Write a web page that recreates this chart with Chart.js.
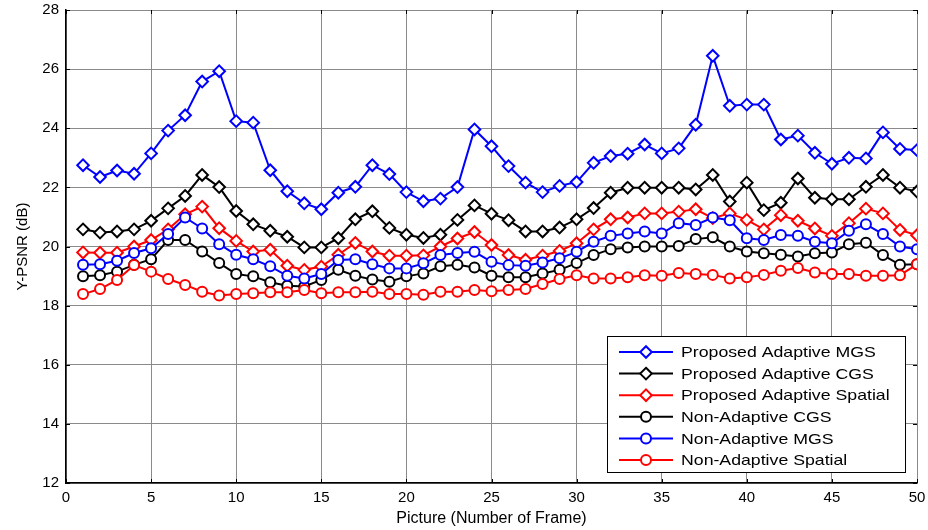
<!DOCTYPE html>
<html>
<head>
<meta charset="utf-8">
<script src="https://cdn.jsdelivr.net/npm/chart.js@4.4.1/dist/chart.umd.min.js"></script>
<style>
  html, body { margin: 0; padding: 0; background: #fff; }
  #wrap { width: 928px; height: 530px; }
</style>
</head>
<body>
<div id="wrap"><canvas id="c" width="928" height="530"></canvas></div>
<script>
// ---- data ----
const frames = Array.from({length: 50}, (_, i) => i + 1);
const xTicks = [0, 5, 10, 15, 20, 25, 30, 35, 40, 45, 50];
const yTicks = [12, 14, 16, 18, 20, 22, 24, 26, 28];

const seriesNames = [
  'Proposed Adaptive MGS',
  'Proposed Adaptive CGS',
  'Proposed Adaptive Spatial',
  'Non-Adaptive CGS',
  'Non-Adaptive MGS',
  'Non-Adaptive Spatial'
];

const adaptiveMGS = [22.75,22.35,22.57,22.46,23.15,23.92,24.44,25.58,25.93,24.24,
  24.19,22.58,21.87,21.46,21.26,21.82,22.02,22.75,22.45,21.84,
  21.53,21.62,22.01,23.96,23.39,22.72,22.16,21.84,22.05,22.18,
  22.83,23.06,23.14,23.45,23.15,23.32,24.12,26.45,24.76,24.80,
  24.80,23.62,23.75,23.17,22.80,23.00,22.98,23.86,23.30,23.26];

const adaptiveCGS = [20.58,20.47,20.51,20.58,20.87,21.29,21.71,22.42,22.01,21.20,
  20.75,20.53,20.33,19.97,19.97,20.28,20.92,21.19,20.63,20.40,
  20.29,20.40,20.90,21.39,21.11,20.89,20.51,20.51,20.64,20.92,
  21.30,21.82,21.99,21.99,21.99,21.99,21.93,22.42,21.52,22.16,
  21.23,21.48,22.30,21.65,21.60,21.60,22.02,22.42,21.99,21.86];

const adaptiveSpatial = [19.80,19.79,19.79,20.00,20.22,20.58,21.09,21.35,20.62,20.19,
  19.83,19.89,19.35,19.21,19.32,19.72,20.12,19.83,19.69,19.69,
  19.70,20.00,20.27,20.49,20.05,19.71,19.55,19.69,19.85,20.11,
  20.58,20.92,20.98,21.12,21.12,21.18,21.26,20.96,21.12,20.90,
  20.58,21.06,20.87,20.61,20.36,20.79,21.28,21.12,20.56,20.38];

const nonAdaptiveCGS = [18.99,19.03,19.15,19.38,19.57,20.22,20.22,19.83,19.44,19.07,
  18.99,18.79,18.67,18.65,18.87,19.21,19.01,18.88,18.81,18.99,
  19.09,19.33,19.38,19.29,19.01,18.96,18.96,19.09,19.21,19.44,
  19.71,19.91,19.97,20.00,20.00,20.02,20.25,20.31,20.00,19.83,
  19.77,19.72,19.66,19.77,19.80,20.08,20.13,19.71,19.38,19.40];

const nonAdaptiveMGS = [19.38,19.40,19.52,19.78,19.94,20.42,20.98,20.61,20.08,19.72,
  19.57,19.33,19.01,18.92,19.07,19.54,19.57,19.40,19.26,19.26,
  19.43,19.71,19.78,19.82,19.48,19.37,19.35,19.46,19.60,19.82,
  20.16,20.36,20.44,20.51,20.44,20.79,20.73,20.98,20.89,20.28,
  20.22,20.39,20.36,20.16,20.11,20.53,20.75,20.42,20.00,19.91];

const nonAdaptiveSpatial = [18.39,18.56,18.87,19.37,19.15,18.90,18.70,18.47,18.34,18.39,
  18.42,18.45,18.45,18.53,18.42,18.45,18.45,18.47,18.39,18.39,
  18.37,18.47,18.47,18.53,18.49,18.53,18.56,18.73,18.90,19.03,
  18.92,18.92,18.96,19.03,19.01,19.10,19.07,19.04,18.92,18.96,
  19.04,19.18,19.27,19.12,19.07,19.07,19.01,19.01,19.03,19.40];

const seriesValues = [adaptiveMGS, adaptiveCGS, adaptiveSpatial, nonAdaptiveCGS, nonAdaptiveMGS, nonAdaptiveSpatial];
const seriesColors = ['#0000ff', '#000000', '#ff0000', '#000000', '#0000ff', '#ff0000'];
const seriesMarkers = ['rectRot', 'rectRot', 'rectRot', 'circle', 'circle', 'circle'];

const FONT = "'Liberation Sans', Arial, Helvetica, sans-serif";

function markerRadius(style) { return style === 'circle' ? 5 : 5.8; }

const datasets = seriesValues.map((vals, i) => ({
  label: seriesNames[i],
  data: frames.map((f, k) => ({x: f, y: vals[k]})),
  borderColor: seriesColors[i],
  backgroundColor: '#ffffff',
  pointBackgroundColor: '#ffffff',
  pointBorderColor: seriesColors[i],
  pointStyle: seriesMarkers[i],
  pointRadius: markerRadius(seriesMarkers[i]),
  pointBorderWidth: 2,
  borderWidth: 2,
  tension: 0,
  order: 6 - i
}));

function drawMarker(ctx, style, x, y, r, color) {
  ctx.save();
  ctx.strokeStyle = color;
  ctx.fillStyle = '#fff';
  ctx.lineWidth = 2;
  ctx.beginPath();
  if (style === 'circle') {
    ctx.arc(x, y, r, 0, Math.PI * 2);
  } else {
    ctx.moveTo(x, y - r); ctx.lineTo(x + r, y); ctx.lineTo(x, y + r); ctx.lineTo(x - r, y); ctx.closePath();
  }
  ctx.fill();
  ctx.stroke();
  ctx.restore();
}

const framePlugin = {
  id: 'frameTicks',
  beforeDatasetsDraw(chart) {
    const {ctx, chartArea: a, scales} = chart;
    ctx.save();
    ctx.strokeStyle = '#000';
    ctx.lineWidth = 1;
    const L = 4;
    ctx.beginPath();
    xTicks.forEach(v => {
      const px = Math.round(scales.x.getPixelForValue(v)) + 0.5;
      ctx.moveTo(px, a.bottom); ctx.lineTo(px, a.bottom - L);
      ctx.moveTo(px, a.top); ctx.lineTo(px, a.top + L);
    });
    yTicks.forEach(v => {
      const py = Math.round(scales.y.getPixelForValue(v)) + 0.5;
      ctx.moveTo(a.left, py); ctx.lineTo(a.left + L, py);
      ctx.moveTo(a.right, py); ctx.lineTo(a.right - L, py);
    });
    ctx.stroke();
    ctx.restore();
  },
  afterDraw(chart) {
    const {ctx} = chart;
    const bx = 607, by = 336, bw = 298, bh = 136;
    ctx.save();
    ctx.fillStyle = '#fff';
    ctx.fillRect(bx, by, bw, bh);
    ctx.strokeStyle = '#000';
    ctx.lineWidth = 1;
    ctx.strokeRect(bx + 0.5, by + 0.5, bw, bh);
    chart.data.datasets.forEach((ds, i) => {
      const y = 352 + i * 21.6;
      ctx.strokeStyle = ds.borderColor;
      ctx.lineWidth = 2;
      ctx.beginPath();
      ctx.moveTo(619, y); ctx.lineTo(673, y);
      ctx.stroke();
      drawMarker(ctx, ds.pointStyle, 646, y, ds.pointStyle === 'circle' ? 5 : 5.8, ds.borderColor);
      ctx.save();
      ctx.translate(681, y);
      ctx.scale(1.18, 1);
      ctx.fillStyle = '#000';
      ctx.font = '15px ' + FONT;
      ctx.textBaseline = 'middle';
      ctx.textAlign = 'left';
      ctx.fillText(ds.label, 0, 1);
      ctx.restore();
    });
    ctx.restore();
  }
};

new Chart(document.getElementById('c'), {
  type: 'line',
  data: { datasets },
  options: {
    responsive: false,
    animation: false,
    devicePixelRatio: 1,
    layout: { padding: { left: 0, right: 11, top: 10, bottom: 0 } },
    plugins: { legend: { display: false }, tooltip: { enabled: false } },
    scales: {
      x: {
        type: 'linear',
        min: 0, max: 50,
        afterBuildTicks: (s) => { s.ticks = xTicks.map(v => ({value: v})); },
        afterFit: (s) => { s.height = 47; s.paddingLeft = 0; s.paddingRight = 0; },
        grid: { color: '#8a8a8a', lineWidth: 1, drawTicks: false },
        border: { color: '#000', width: 1.5 },
        ticks: { padding: 6, color: '#000', font: { family: FONT, size: 15 }, maxRotation: 0 },
        title: { display: true, text: 'Picture (Number of Frame)', color: '#000', font: { family: FONT, size: 16 }, padding: { top: 0, bottom: 2 } }
      },
      y: {
        type: 'linear',
        min: 12, max: 28,
        afterBuildTicks: (s) => { s.ticks = yTicks.map(v => ({value: v})); },
        afterFit: (s) => { s.width = 66; s.paddingTop = 0; s.paddingBottom = 0; },
        grid: { color: '#8a8a8a', lineWidth: 1, drawTicks: false },
        border: { color: '#000', width: 1.5 },
        ticks: { padding: 7, color: '#000', font: { family: FONT, size: 15 } },
        title: { display: true, text: 'Y-PSNR (dB)', color: '#000', font: { family: FONT, size: 15 }, padding: { top: 14, bottom: 0 } }
      }
    }
  },
  plugins: [framePlugin]
});
</script>
</body>
</html>
